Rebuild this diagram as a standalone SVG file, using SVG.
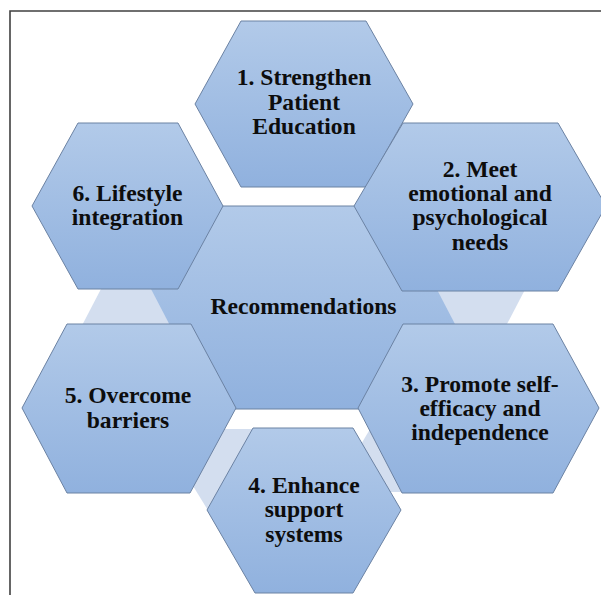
<svg xmlns="http://www.w3.org/2000/svg" width="601" height="595" viewBox="0 0 601 595">
  <defs>
    <linearGradient id="hexFill" x1="0" y1="0" x2="0" y2="1">
      <stop offset="0" stop-color="#b2cae9"/>
      <stop offset="1" stop-color="#90b1de"/>
    </linearGradient>
    <style>
      .hex { fill: url(#hexFill); stroke: #6b82a3; stroke-width: 1; }
      .link { fill: #d3deef; stroke: none; }
      .label { font-family: "Liberation Serif", "Times New Roman", serif; font-weight: bold; font-size: 23.6px; fill: #0d0d0d; text-anchor: middle; }
      .frame { fill: none; stroke: #404040; stroke-width: 1.6; }
    </style>
  </defs>

  <rect width="601" height="595" fill="#ffffff"/>
  <path class="frame" d="M10,596 V11 H602"/>

  <!-- central hexagon -->
  <g id="center">
    <polygon class="hex" points="130,307.5 186,206 421,206 477,307.5 421,409 186,409"/>
    <text class="label" x="303.5" y="314">Recommendations</text>
  </g>

  <!-- light triangles between neighbouring outer hexagons -->
  <g id="connectors">
    <polygon class="link" points="126,241 188,360 64,360"/>
    <polygon class="link" points="481,374 419,255 543,255"/>
    <polygon class="link" points="158,429 275,429 217,525"/>
    <polygon class="link" points="391,394 449.5,492 332.5,492"/>
  </g>

  <g id="node1">
    <polygon class="hex" points="195,104 241,21 366,21 413,104 366,187 241,187"/>
    <text class="label"><tspan x="304" y="85">1. Strengthen</tspan><tspan x="304" y="110">Patient</tspan><tspan x="304" y="134">Education</tspan></text>
  </g>

  <g id="node2">
    <polygon class="hex" points="354,206 403,123 558,123 606,206 558,291 402,291"/>
    <text class="label"><tspan x="480" y="177">2. Meet</tspan><tspan x="480" y="201">emotional and</tspan><tspan x="480" y="225">psychological</tspan><tspan x="480" y="250">needs</tspan></text>
  </g>

  <g id="node3">
    <polygon class="hex" points="358,408 403,324 553,324 599,408 553,493 402,493"/>
    <text class="label"><tspan x="480" y="392">3. Promote self-</tspan><tspan x="480" y="416">efficacy and</tspan><tspan x="480" y="440">independence</tspan></text>
  </g>

  <g id="node4">
    <polygon class="hex" points="207,510 253,428 353,428 401,510 353,593 255,593"/>
    <text class="label"><tspan x="304" y="493">4. Enhance</tspan><tspan x="304" y="517">support</tspan><tspan x="304" y="542">systems</tspan></text>
  </g>

  <g id="node5">
    <polygon class="hex" points="22,408 67,324 191,324 236,408 190,493 67,493"/>
    <text class="label"><tspan x="128" y="403">5. Overcome</tspan><tspan x="128" y="428">barriers</tspan></text>
  </g>

  <g id="node6">
    <polygon class="hex" points="32,206 78,123 178,123 223,206 178,289 78,289"/>
    <text class="label"><tspan x="127.5" y="201">6. Lifestyle</tspan><tspan x="127.5" y="225">integration</tspan></text>
  </g>
</svg>
